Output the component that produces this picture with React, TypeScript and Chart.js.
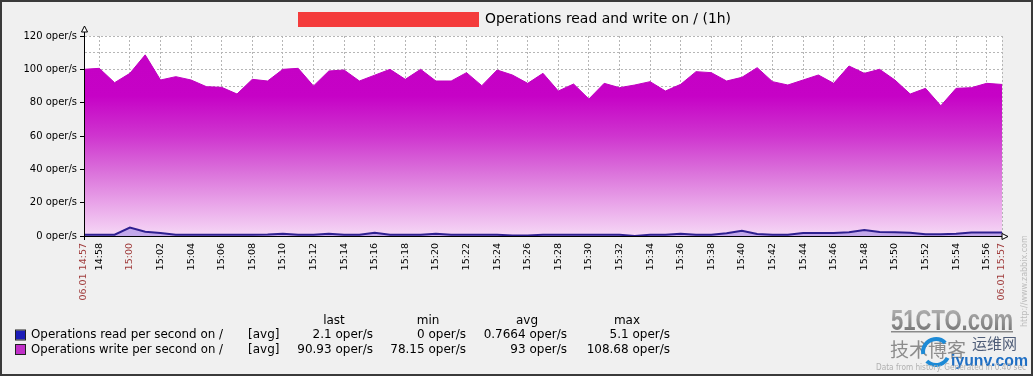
import React, { useEffect, useRef } from 'react';
import { Chart, registerables } from 'chart.js';

Chart.register(...registerables);

// ---------- data ----------
const timeLabels = [
  '14:57', '14:58', '14:59', '15:00', '15:01', '15:02', '15:03', '15:04', '15:05', '15:06',
  '15:07', '15:08', '15:09', '15:10', '15:11', '15:12', '15:13', '15:14', '15:15', '15:16',
  '15:17', '15:18', '15:19', '15:20', '15:21', '15:22', '15:23', '15:24', '15:25', '15:26',
  '15:27', '15:28', '15:29', '15:30', '15:31', '15:32', '15:33', '15:34', '15:35', '15:36',
  '15:37', '15:38', '15:39', '15:40', '15:41', '15:42', '15:43', '15:44', '15:45', '15:46',
  '15:47', '15:48', '15:49', '15:50', '15:51', '15:52', '15:53', '15:54', '15:55', '15:56',
  '15:57',
];
const dateLabel = '06.01';

const readValues = [
  0.8, 0.8, 0.8, 5.1, 2.6, 1.8, 0.8, 0.8, 0.8, 0.8,
  0.8, 0.8, 0.9, 1.4, 0.8, 0.8, 1.4, 0.8, 0.8, 2.0,
  0.8, 0.8, 0.8, 1.4, 0.8, 0.8, 0.8, 0.8, 0.3, 0.3,
  0.8, 0.8, 0.8, 0.8, 0.8, 0.8, 0.0, 0.8, 0.8, 1.4,
  0.8, 0.8, 1.6, 3.2, 1.2, 0.8, 0.8, 1.8, 1.8, 1.8,
  2.2, 3.6, 2.4, 2.2, 2.0, 1.0, 1.0, 1.4, 2.1, 2.1,
  2.1,
];

const writeValues = [
  100, 100.6, 92, 97.6, 108.68, 93.6, 95.6, 93.6, 89.6, 89.2,
  85.2, 94, 93, 100, 100.6, 90, 99, 99.6, 93, 96.5,
  100, 94, 100, 93, 93, 98, 90.2, 99.6, 96.6, 91.6,
  97.6, 87, 91.2, 82.2, 91.6, 89, 90.6, 92.6, 87, 91,
  98.6, 98, 93, 95.2, 101, 92.6, 90.6, 93.6, 96.6, 91.6,
  102, 97.6, 100, 93.6, 85.2, 88.6, 78.15, 88.6, 89, 91.6,
  90.93,
];

const yMin = 0;
const yMax = 120;
const yGridStep = 10;
const yLabelStep = 20;
const unit = 'oper/s';

const titleText = 'Operations read and write on / (1h)';
const seriesNames = ['Operations read per second on /', 'Operations write per second on /'];
const seriesFunc = '[avg]';
const statHeaders = ['last', 'min', 'avg', 'max'];
const readStats = ['2.1 oper/s', '0 oper/s', '0.7664 oper/s', '5.1 oper/s'];
const writeStats = ['90.93 oper/s', '78.15 oper/s', '93 oper/s', '108.68 oper/s'];
const footerText = 'Data from history. Generated in 0.40 sec';
const sideText = 'http://www.zabbix.com';

// ---------- styles ----------
const FONT = 'DejaVu Sans';
const READ_LINE = '#2e1f90';
const READ_FILL = 'rgba(185,160,232,0.85)';
const READ_LEGEND = '#1c1cb8';
const WRITE_LINE = '#c000c0';
const WRITE_LEGEND = '#c030c8';
const GRID = '#b6b6b6';
const RED_LABEL = '#a03c3c';

const isRedIndex = (i: number) =>
  i === 0 || i === timeLabels.length - 1 || timeLabels[i].endsWith(':00');

const decorPlugin = {
  id: 'zabbixDecor',
  beforeDraw(chart: any) {
    const { ctx, chartArea: a, width, height } = chart;
    ctx.save();
    ctx.fillStyle = '#f0f0f0';
    ctx.fillRect(0, 0, width, height);
    ctx.fillStyle = '#ffffff';
    ctx.fillRect(a.left, a.top, a.right - a.left, a.bottom - a.top);
    ctx.restore();
  },
  afterDraw(chart: any) {
    const { ctx, chartArea: a, width, height } = chart;
    ctx.save();

    // axes lines
    ctx.strokeStyle = '#000';
    ctx.lineWidth = 1;
    ctx.beginPath();
    ctx.moveTo(a.left + 0.5, a.top - 5);
    ctx.lineTo(a.left + 0.5, a.bottom + 4);
    ctx.moveTo(a.left - 4, a.bottom + 0.5);
    ctx.lineTo(a.right + 4, a.bottom + 0.5);
    ctx.stroke();
    // arrows (open triangles)
    ctx.fillStyle = '#fff';
    ctx.beginPath();
    ctx.moveTo(a.left + 0.5, a.top - 10);
    ctx.lineTo(a.left - 2.5, a.top - 4);
    ctx.lineTo(a.left + 3.5, a.top - 4);
    ctx.closePath();
    ctx.fill();
    ctx.stroke();
    ctx.beginPath();
    ctx.moveTo(a.right + 6, a.bottom + 0.5);
    ctx.lineTo(a.right, a.bottom - 2.5);
    ctx.lineTo(a.right, a.bottom + 3.5);
    ctx.closePath();
    ctx.fill();
    ctx.stroke();

    // title
    ctx.fillStyle = '#f43c3c';
    ctx.fillRect(298, 12, 181, 15);
    ctx.fillStyle = '#000';
    ctx.font = `14px "${FONT}"`;
    ctx.textBaseline = 'middle';
    ctx.textAlign = 'left';
    ctx.fillText(titleText, 485, 19.5, 246);

    // legend
    ctx.font = `12px "${FONT}"`;
    const headerX = [334, 428, 527, 627];
    const valueX = [373, 466, 567, 670];
    ctx.textAlign = 'center';
    statHeaders.forEach((h, i) => ctx.fillText(h, headerX[i], 321));
    const rows = [
      { name: seriesNames[0], color: READ_LEGEND, stats: readStats, y: 335 },
      { name: seriesNames[1], color: WRITE_LEGEND, stats: writeStats, y: 349.5 },
    ];
    rows.forEach((r) => {
      ctx.fillStyle = r.color;
      ctx.fillRect(16, r.y - 4.5, 9, 9);
      ctx.strokeStyle = '#222';
      ctx.lineWidth = 1;
      ctx.strokeRect(15.5, r.y - 5, 10, 10);
      ctx.fillStyle = '#000';
      ctx.textAlign = 'left';
      ctx.fillText(r.name, 31, r.y, 192);
      ctx.fillText(seriesFunc, 248, r.y);
      ctx.textAlign = 'right';
      r.stats.forEach((s, i) => ctx.fillText(s, valueX[i], r.y));
    });

    // watermark
    ctx.textAlign = 'left';
    ctx.textBaseline = 'alphabetic';
    ctx.font = `bold 30px "Liberation Sans Narrow", "Liberation Sans"`;
    const g = ctx.createLinearGradient(0, 306, 0, 330);
    g.addColorStop(0, '#b8b8b8');
    g.addColorStop(1, '#7a7a7a');
    ctx.fillStyle = g;
    ctx.fillText('51CTO.com', 891, 330, 122);
    ctx.fillStyle = '#8a8a8a';
    ctx.fillRect(891, 331, 122, 1.5);
    ctx.font = `19px "Noto Sans CJK SC"`;
    ctx.fillStyle = '#8c8c8c';
    ctx.fillText('技术博客', 890, 357, 80);
    ctx.font = `15px "Noto Sans CJK SC"`;
    ctx.fillStyle = '#4f5d78';
    ctx.fillText('运维网', 972, 349, 45);
    ctx.strokeStyle = '#1d8ad6';
    ctx.lineWidth = 4;
    ctx.beginPath();
    ctx.arc(936, 352, 13, Math.PI * 0.95, Math.PI * 1.75);
    ctx.stroke();
    ctx.beginPath();
    ctx.arc(936, 352, 13, Math.PI * 0.15, Math.PI * 0.75);
    ctx.stroke();
    ctx.font = `bold 17px "Liberation Sans", Arial`;
    ctx.fillStyle = '#1f6fc4';
    ctx.fillText('iyunv.com', 951, 366, 77);

    // footer
    ctx.font = `9px "${FONT}"`;
    ctx.fillStyle = '#b0b0b0';
    ctx.textAlign = 'right';
    ctx.textBaseline = 'middle';
    ctx.fillText(footerText, 1026, 368, 150);

    // side text
    ctx.save();
    ctx.translate(1025, 327);
    ctx.rotate(-Math.PI / 2);
    ctx.font = `8px "${FONT}"`;
    ctx.fillStyle = '#bdbdbd';
    ctx.textAlign = 'left';
    ctx.fillText(sideText, 0, 0, 105);
    ctx.restore();

    // frame
    ctx.strokeStyle = '#3a3a3a';
    ctx.lineWidth = 2;
    ctx.strokeRect(1, 1, width - 2, height - 2);
    ctx.restore();
  },
};

export default function App() {
  const ref = useRef<HTMLCanvasElement>(null);

  useEffect(() => {
    document.body.style.margin = '0';
    const canvas = ref.current;
    if (!canvas) return;
    const last = timeLabels.length - 1;
    const chart = new Chart(canvas, {
      type: 'line',
      data: {
        labels: timeLabels,
        datasets: [
          {
            label: seriesNames[0],
            data: readValues,
            borderColor: READ_LINE,
            backgroundColor: READ_FILL,
            borderWidth: 2,
            fill: 'origin',
            pointRadius: 0,
            tension: 0,
          },
          {
            label: seriesNames[1],
            data: writeValues,
            borderColor: WRITE_LINE,
            borderWidth: 1,
            fill: 'origin',
            pointRadius: 0,
            tension: 0,
            backgroundColor: (c: any) => {
              const area = c.chart.chartArea;
              if (!area) return 'rgba(200,0,200,0.8)';
              const gr = c.chart.ctx.createLinearGradient(0, area.top, 0, area.bottom);
              gr.addColorStop(0, '#c400c4');
              gr.addColorStop(0.3, '#c602c6');
              gr.addColorStop(0.5, '#cf35cf');
              gr.addColorStop(0.67, '#da6eda');
              gr.addColorStop(0.83, '#e8a2e8');
              gr.addColorStop(1, '#f6d8f6');
              return gr;
            },
          },
        ],
      },
      options: {
        responsive: false,
        animation: false,
        devicePixelRatio: 1,
        layout: { padding: { top: 36, right: 31, bottom: 0, left: 0 } },
        plugins: {
          legend: { display: false },
          title: { display: false },
          tooltip: { enabled: false },
        },
        scales: {
          x: {
            type: 'category',
            offset: false,
            z: 1,
            afterFit: (s: any) => {
              s.height = 140;
            },
            grid: {
              offset: false,
              drawTicks: true,
              tickLength: 3,
              tickColor: 'transparent',
              lineWidth: 1,
              color: (c: any) => {
                const i = c.index;
                if (i === 0) return 'transparent';
                return i % 2 === 1 || i === last ? GRID : 'transparent';
              },
            },
            border: { display: true, color: '#000', width: 1, dash: [2, 2] },
            ticks: {
              autoSkip: false,
              minRotation: 90,
              maxRotation: 90,
              padding: 4,
              font: { family: FONT, size: 9.5 },
              color: (c: any) => (isRedIndex(c.index) ? RED_LABEL : '#000'),
              callback: (_v: any, i: number) => {
                if (i === 0 || i === last) return `${dateLabel} ${timeLabels[i]}`;
                return i % 2 === 1 ? timeLabels[i] : '';
              },
            },
          },
          y: {
            type: 'linear',
            min: yMin,
            max: yMax,
            z: 1,
            afterFit: (s: any) => {
              s.width = 84;
            },
            grid: {
              drawTicks: true,
              tickLength: 4,
              lineWidth: 1,
              tickColor: (c: any) => (c.tick && c.tick.value % yLabelStep === 0 ? '#000' : 'transparent'),
              color: (c: any) => (c.tick && c.tick.value === yMin ? 'transparent' : GRID),
            },
            border: { display: true, color: '#000', width: 1, dash: [2, 2] },
            ticks: {
              stepSize: yGridStep,
              padding: 3,
              font: { family: FONT, size: 10 },
              color: '#000',
              callback: (v: any) => (Number(v) % yLabelStep === 0 ? `${v} ${unit}` : ''),
            },
          },
        },
      },
      plugins: [decorPlugin],
    } as any);
    return () => chart.destroy();
  }, []);

  return (
    <div style={{ position: 'absolute', left: 0, top: 0, width: 1033, height: 376 }}>
      <canvas ref={ref} width={1033} height={376} style={{ display: 'block', width: 1033, height: 376 }} />
    </div>
  );
}
